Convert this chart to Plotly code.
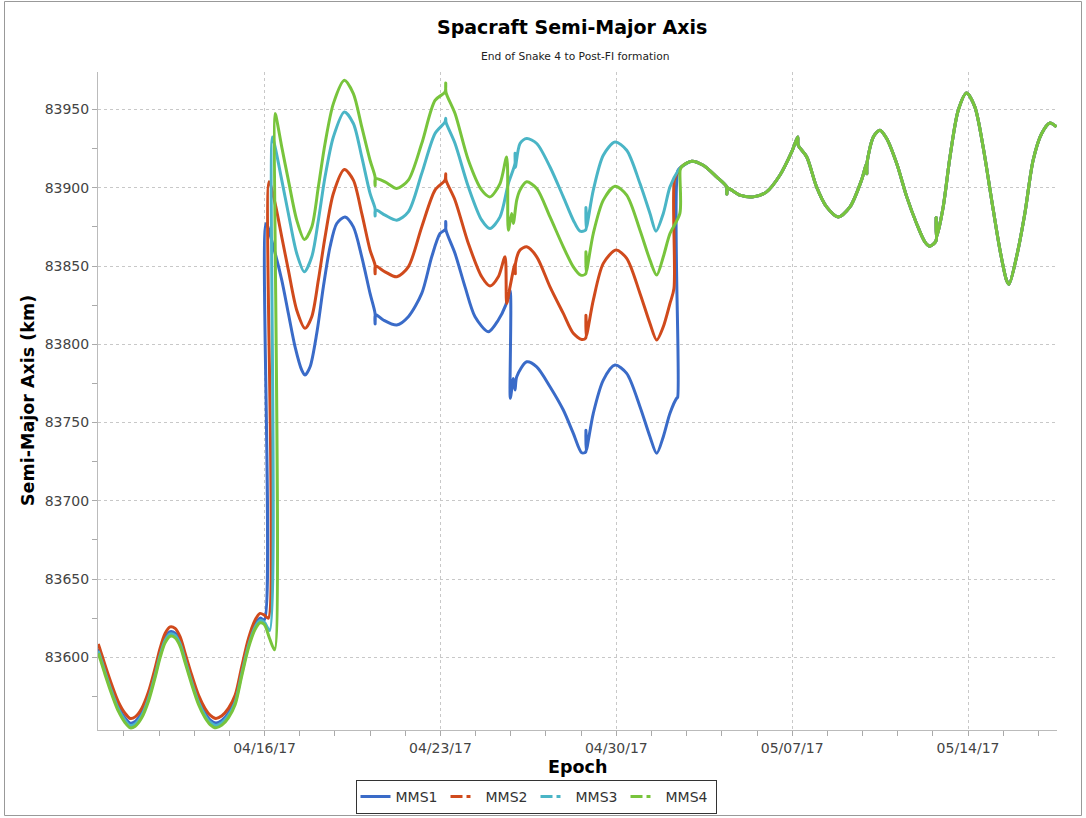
import datetime as dt
import plotly.graph_objects as go

# ---------------- data (days relative to 2017-04-16 00:00 UTC, SMA in km) ----------------
BASE = dt.datetime(2017, 4, 16)

early_days = [-6.62, -6.55, -6.35, -6.08, -5.82, -5.55, -5.35, -5.15, -4.89, -4.62, -4.36,
              -4.16, -3.96, -3.76, -3.56, -3.36, -3.16, -2.90, -2.63, -2.37, -2.17, -1.94,
              -1.70, -1.44, -1.17, -0.91, -0.64, -0.38, -0.18, -0.01]

mms1_early = [83605.5, 83602.2, 83592.0, 83579.2, 83568.5, 83561.1, 83557.9, 83558.9, 83564.3,
              83574.9, 83589.8, 83602.6, 83612.2, 83616.4, 83615.4, 83610.0, 83599.4, 83585.6,
              83572.8, 83564.3, 83560.0, 83557.9, 83559.6, 83564.3, 83572.8, 83590.9, 83609.0,
              83620.7, 83625.0, 83623.9]
mms2_early = [83608.5, 83605.2, 83595.0, 83582.2, 83571.5, 83564.1, 83560.9, 83561.9, 83567.3,
              83577.9, 83592.8, 83605.6, 83615.2, 83619.4, 83618.4, 83613.0, 83602.4, 83588.6,
              83575.8, 83567.3, 83563.0, 83560.9, 83562.6, 83567.3, 83575.8, 83593.9, 83612.0,
              83623.7, 83628.0, 83626.9]
mms3_early = [83604.0, 83600.7, 83590.5, 83577.7, 83567.0, 83559.6, 83556.4, 83557.4, 83562.8,
              83573.4, 83588.3, 83601.1, 83610.7, 83614.9, 83613.9, 83608.5, 83597.9, 83584.1,
              83571.3, 83562.8, 83558.5, 83556.4, 83558.1, 83562.8, 83571.3, 83589.4, 83607.5,
              83619.2, 83623.5, 83622.4]
mms4_early = [83602.5, 83599.2, 83589.0, 83576.2, 83565.5, 83558.1, 83554.9, 83555.9, 83561.3,
              83571.9, 83586.8, 83599.6, 83609.2, 83613.4, 83612.4, 83607.0, 83596.4, 83582.6,
              83569.8, 83561.3, 83557.0, 83554.9, 83556.6, 83561.3, 83569.8, 83587.9, 83606.0,
              83617.7, 83622.0, 83620.9]

mms1_days = [0.06, 0.35, 0.684, 0.947, 1.214, 1.48, 1.612, 1.811, 2.077, 2.34, 2.606, 2.873,
             3.203, 3.534, 3.868, 4.198, 4.397, 4.40, 4.41, 4.727, 5.261, 5.722, 6.255, 6.653,
             6.984, 7.20, 7.21, 7.22, 7.581, 7.979, 8.377, 8.906, 9.304, 9.598, 9.769, 9.782,
             9.901, 9.968, 10.036, 10.434, 10.832, 11.361, 11.89, 12.288, 12.622, 12.78, 12.79,
             12.80, 13.084, 13.482, 13.947, 14.413, 14.942, 15.34, 15.607, 15.87, 16.136,
             16.403, 16.44, 16.45]
mms1_sma = [83877.2, 83862.3, 83841.0, 83819.7, 83798.4, 83783.5, 83780.3, 83785.6, 83807.0,
            83836.7, 83862.3, 83877.2, 83881.4, 83875.0, 83855.9, 83832.5, 83819.7, 83813.0,
            83819.0, 83815.5, 83812.3, 83817.6, 83832.5, 83855.9, 83870.8, 83873.5, 83878.5,
            83873.0, 83858.0, 83836.7, 83817.6, 83808.0, 83815.5, 83825.0, 83834.6, 83765.5,
            83778.2, 83770.8, 83779.3, 83788.8, 83785.6, 83772.9, 83758.0, 83743.1, 83730.7,
            83731.2, 83745.0, 83732.0, 83755.9, 83777.1, 83786.7, 83781.4, 83760.1, 83740.9,
            83730.3, 83740.9, 83755.9, 83765.5, 83766.0, 83911.0]

mms2_days = [0.15, 0.179, 0.418, 0.684, 0.947, 1.281, 1.612, 1.878, 2.141, 2.407, 2.738, 3.176,
             3.534, 3.868, 4.198, 4.397, 4.40, 4.41, 4.795, 5.261, 5.722, 6.255, 6.785, 7.183,
             7.21, 7.22, 7.581, 8.111, 8.643, 8.973, 9.304, 9.57, 9.638, 9.769, 9.968, 9.98,
             9.99, 10.167, 10.434, 10.832, 11.361, 11.89, 12.288, 12.622, 12.78, 12.79, 12.80,
             13.084, 13.482, 13.987, 14.413, 14.942, 15.34, 15.607, 15.87, 16.136, 16.295,
             16.31, 16.45]
mms2_sma = [83625.0, 83903.8, 83890.0, 83868.6, 83847.4, 83821.8, 83810.2, 83817.6, 83841.0,
            83868.6, 83896.4, 83911.7, 83904.9, 83883.6, 83860.2, 83850.6, 83845.0, 83850.0,
            83846.3, 83843.1, 83849.5, 83875.0, 83898.5, 83904.9, 83909.0, 83905.0, 83892.1,
            83864.4, 83843.1, 83837.2, 83843.1, 83855.9, 83826.1, 83836.7, 83851.7, 83845.0,
            83852.0, 83860.2, 83862.3, 83855.9, 83836.7, 83819.7, 83807.0, 83803.1, 83804.0,
            83818.6, 83805.0, 83828.2, 83851.7, 83860.2, 83854.9, 83832.5, 83813.3, 83802.7,
            83811.2, 83826.1, 83835.7, 83904.9, 83910.0]

mms3_days = [0.2, 0.312, 0.418, 0.684, 0.947, 1.281, 1.584, 1.878, 2.141, 2.407, 2.738, 3.176,
             3.534, 3.868, 4.198, 4.397, 4.40, 4.41, 4.795, 5.261, 5.722, 6.255, 6.785, 7.183,
             7.21, 7.22, 7.581, 8.111, 8.643, 8.973, 9.371, 9.702, 9.968, 9.97, 9.98, 10.167,
             10.434, 10.832, 11.361, 11.89, 12.288, 12.555, 12.78, 12.79, 12.80, 13.084, 13.482,
             13.947, 14.413, 14.942, 15.34, 15.58, 15.87, 16.136, 16.47]
mms3_sma = [83617.0, 83932.5, 83926.1, 83904.9, 83883.6, 83858.0, 83846.3, 83855.9, 83879.3,
            83907.0, 83932.5, 83948.5, 83941.1, 83919.7, 83896.4, 83886.8, 83882.0, 83886.0,
            83882.5, 83879.3, 83884.6, 83909.1, 83934.7, 83942.1, 83944.5, 83942.0, 83928.3,
            83900.6, 83879.3, 83874.0, 83881.4, 83902.7, 83915.5, 83922.0, 83913.0, 83928.3,
            83931.5, 83928.3, 83913.3, 83894.2, 83879.3, 83872.3, 83873.0, 83887.4, 83874.0,
            83898.5, 83920.8, 83929.3, 83924.0, 83902.7, 83883.6, 83872.3, 83883.6, 83900.6,
            83911.2]

mms4_days = [0.2, 0.40, 0.418, 0.446, 0.684, 0.947, 1.281, 1.584, 1.878, 2.141, 2.407, 2.738,
             3.176, 3.534, 3.868, 4.198, 4.397, 4.40, 4.41, 4.795, 5.261, 5.722, 6.255, 6.785,
             7.183, 7.21, 7.22, 7.581, 8.111, 8.643, 8.973, 9.371, 9.637, 9.702, 9.835, 9.90,
             10.036, 10.167, 10.434, 10.832, 11.361, 11.89, 12.288, 12.582, 12.78, 12.79, 12.80,
             13.084, 13.482, 13.947, 14.413, 14.942, 15.34, 15.607, 15.87, 16.136, 16.53, 16.54]
mms4_sma = [83612.0, 83604.7, 83947.4, 83946.4, 83926.1, 83904.9, 83879.3, 83867.0, 83875.0,
            83900.6, 83928.3, 83953.8, 83968.7, 83960.2, 83938.9, 83917.6, 83907.0, 83901.4,
            83906.0, 83903.8, 83899.6, 83904.9, 83928.3, 83955.9, 83961.2, 83967.0, 83961.0,
            83947.4, 83917.6, 83898.5, 83894.2, 83902.7, 83919.7, 83872.9, 83883.6, 83877.2,
            83892.1, 83898.5, 83903.8, 83899.6, 83881.4, 83862.3, 83849.5, 83844.2, 83845.0,
            83859.1, 83846.0, 83870.8, 83892.1, 83901.0, 83895.3, 83872.9, 83853.8, 83844.2,
            83855.9, 83870.8, 83883.6, 83911.2]

# after the Post-FI formation the four orbits coincide
common_days = [16.60, 17.0, 17.46, 17.99, 18.39, 18.40, 18.41, 18.92, 19.45, 19.98, 20.51, 20.98,
               21.22, 21.24, 21.58, 21.97, 22.37, 22.83, 23.30, 23.76, 23.96, 23.97, 23.98, 24.23,
               24.49, 24.76, 25.16, 25.56, 25.95, 26.28, 26.48, 26.72, 26.73, 26.74, 27.01, 27.28,
               27.61, 27.94, 28.27, 28.60, 28.94, 29.27, 29.53, 29.63, 29.93, 30.26, 30.59, 30.93,
               31.26, 31.52]
common_sma = [83913.5, 83917.0, 83914.4, 83907.0, 83900.6, 83896.0, 83900.0, 83895.3, 83894.2,
              83897.4, 83908.0, 83922.9, 83932.5, 83927.2, 83919.7, 83900.6, 83887.8, 83881.4,
              83887.8, 83904.9, 83915.5, 83909.0, 83916.0, 83932.5, 83936.8, 83931.5, 83915.5,
              83894.2, 83877.2, 83865.5, 83862.7, 83866.0, 83881.0, 83868.0, 83887.8, 83919.7,
              83949.6, 83960.6, 83951.7, 83926.1, 83892.1, 83860.2, 83841.0, 83838.4, 83855.9,
              83883.6, 83917.6, 83934.7, 83941.4, 83938.9]

series_names = ["MMS1", "MMS2", "MMS3", "MMS4"]
series_colors = ["#3a6bc8", "#d04a1c", "#4ab5c6", "#78c43c"]
legend_dash = ["solid", "12px,4px,4px,20px", "12px,4px,4px,20px", "12px,4px,4px,20px"]

x_tick_dates = ["2017-04-16", "2017-04-23", "2017-04-30", "2017-05-07", "2017-05-14"]
x_range_days = [-6.63, 31.54]
y_range = [83553.5, 83974.0]


def to_dates(days):
    return [BASE + dt.timedelta(days=d) for d in days]


all_series = [
    (early_days + mms1_days + common_days, mms1_early + mms1_sma + common_sma),
    (early_days + mms2_days + common_days, mms2_early + mms2_sma + common_sma),
    (early_days + mms3_days + common_days, mms3_early + mms3_sma + common_sma),
    (early_days + mms4_days + common_days, mms4_early + mms4_sma + common_sma),
]

fig = go.Figure()
for (days, vals), name, col in zip(all_series, series_names, series_colors):
    n = min(len(days), len(vals))
    fig.add_trace(go.Scatter(
        x=to_dates(days[:n]), y=vals[:n], mode="lines", name=name,
        legendgroup=name, showlegend=False,
        line=dict(color=col, width=3, shape="spline", smoothing=0.8)))

# legend entries (line styles as in the original legend)
for name, col, dash in zip(series_names, series_colors, legend_dash):
    fig.add_trace(go.Scatter(
        x=[None], y=[None], mode="lines", name=name, legendgroup=name,
        line=dict(color=col, width=3, dash=dash)))

FIG_W, FIG_H = 1086, 818
# plot-area geometry in page pixels
L, R, T, B = 98, 1057, 72, 730
W, H = R - L, B - T


def px(xp):
    return (xp - L) / W


def py(yp):
    return (B - yp) / H


FONT = "DejaVu Sans"
fig.update_layout(
    width=FIG_W, height=FIG_H,
    margin=dict(l=L, r=FIG_W - R, t=T, b=FIG_H - B, pad=0, autoexpand=False),
    paper_bgcolor="white", plot_bgcolor="white",
    font=dict(family=FONT, size=14, color="#444444"),
    showlegend=True,
    legend=dict(orientation="h", x=px(536), xanchor="center", y=py(780), yanchor="top",
                bordercolor="#333333", borderwidth=1, font=dict(size=14, color="#333333"),
                itemwidth=30, entrywidth=45, tracegroupgap=0),
    annotations=[
        dict(text="<b>Spacraft Semi-Major Axis</b>", x=px(572), y=py(27), xref="paper",
             yref="paper", showarrow=False, xanchor="center", yanchor="middle",
             font=dict(family=FONT, size=19, color="#000000")),
        dict(text="End of Snake 4 to Post-FI formation", x=px(575), y=py(56), xref="paper",
             yref="paper", showarrow=False, xanchor="center", yanchor="middle",
             font=dict(family=FONT, size=10.7, color="#222222")),
        dict(text="<b>Semi-Major Axis (km)</b>", x=px(28), y=py(401), xref="paper",
             yref="paper", showarrow=False, xanchor="center", yanchor="middle", textangle=-90,
             font=dict(family=FONT, size=17.5, color="#000000")),
        dict(text="<b>Epoch</b>", x=px(577), y=py(767), xref="paper", yref="paper",
             showarrow=False, xanchor="center", yanchor="middle",
             font=dict(family=FONT, size=17.5, color="#000000")),
    ],
    shapes=[dict(type="rect", xref="paper", yref="paper", x0=px(4.5), x1=px(1081.5),
                 y0=py(815.5), y1=py(1.5), line=dict(color="#999999", width=1),
                 fillcolor="rgba(0,0,0,0)", layer="below")],
)

fig.update_xaxes(
    type="date",
    range=to_dates(x_range_days),
    tickvals=x_tick_dates, tickformat="%m/%d/%y",
    ticks="outside", ticklen=5, tickcolor="#aaaaaa",
    tickfont=dict(size=14, color="#444444"),
    showgrid=True, gridcolor="#c8c8c8", griddash="dot", gridwidth=1,
    showline=True, linecolor="#bbbbbb", linewidth=1,
    minor=dict(dtick=1.4 * 86400000, tick0="2017-04-16", ticks="outside", ticklen=5,
               tickcolor="#aaaaaa", showgrid=False),
    zeroline=False, fixedrange=True, automargin=False,
)
fig.update_yaxes(
    range=y_range, tick0=83600, dtick=50, tickformat="d",
    ticks="outside", ticklen=5, tickcolor="#aaaaaa",
    tickfont=dict(size=14, color="#444444"),
    showgrid=True, gridcolor="#c8c8c8", griddash="dot", gridwidth=1,
    showline=True, linecolor="#bbbbbb", linewidth=1,
    minor=dict(dtick=25, tick0=83600, ticks="outside", ticklen=5, tickcolor="#aaaaaa",
               showgrid=False),
    zeroline=False, fixedrange=True, automargin=False,
)

# remove the browser's default 8 px body margin so the figure fills the window exactly
fig.write_html("out.html", config={"displayModeBar": False},
               post_script="document.body.style.margin='0px';document.body.style.overflow='hidden';")
